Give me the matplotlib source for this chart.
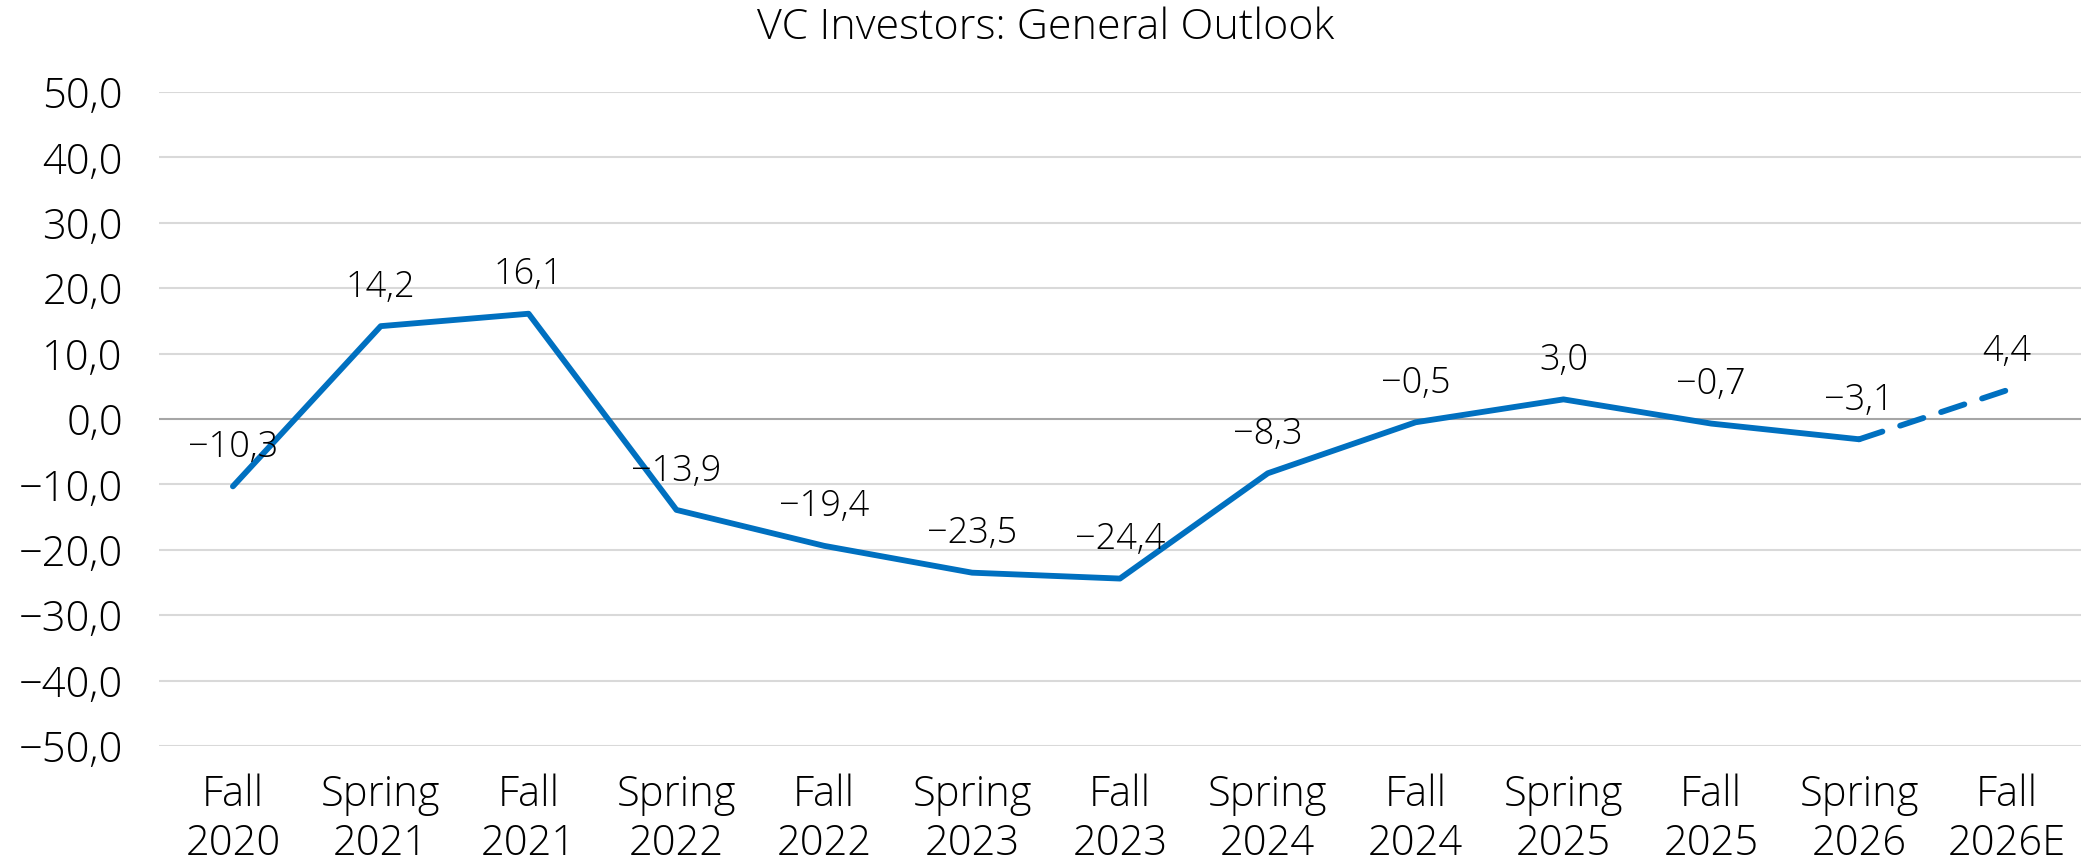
import matplotlib
matplotlib.use("Agg")
import matplotlib.pyplot as plt

# data
periods = ["Fall\n2020", "Spring\n2021", "Fall\n2021", "Spring\n2022", "Fall\n2022",
           "Spring\n2023", "Fall\n2023", "Spring\n2024", "Fall\n2024", "Spring\n2025",
           "Fall\n2025", "Spring\n2026", "Fall\n2026E"]
outlook = [-10.3, 14.2, 16.1, -13.9, -19.4, -23.5, -24.4, -8.3, -0.5, 3.0, -0.7, -3.1, 4.4]
n_actual = 12  # last point is the estimate
y_ticks = [-50, -40, -30, -20, -10, 0, 10, 20, 30, 40, 50]

BLUE = "#0070C0"

plt.rcParams['font.family'] = ['Open Sans', 'DejaVu Sans']
plt.rcParams['font.weight'] = 300

def fmt(v):
    return f"{v:.1f}".replace(".", ",").replace("-", "\u2212")

fig = plt.figure(figsize=(20.92, 8.65), dpi=100)
ax = fig.add_axes([0.076, 0.1376, 0.9187, 0.756])

x = list(range(len(outlook)))
ax.plot(x[:n_actual], outlook[:n_actual], color=BLUE, lw=4.2, solid_capstyle='round', zorder=3)
ax.plot(x[n_actual - 1:], outlook[n_actual - 1:], color=BLUE, lw=4.2,
        linestyle=(0, (4.2, 3.2)), dash_capstyle='round', zorder=3)

for xi, v in zip(x, outlook):
    ax.annotate(fmt(v), (xi, v), xytext=(0, 28), textcoords='offset points',
                ha='center', va='center', fontsize=26, color='black')

ax.set_xlim(-0.5, len(outlook) - 0.5)
ax.set_ylim(-50, 50)
ax.set_yticks(y_ticks)
ax.set_yticklabels([fmt(t) for t in y_ticks], fontsize=30)
ax.set_xticks(x)
ax.set_xticklabels(periods, fontsize=30, linespacing=1.2)
ax.tick_params(axis='both', length=0, colors='black')
ax.tick_params(axis='x', pad=20)
ax.tick_params(axis='y', pad=26)

for t in y_ticks:
    ax.axhline(t, color='#A6A6A6' if t == 0 else '#D9D9D9', lw=1.5, zorder=1)
for s in ax.spines.values():
    s.set_visible(False)

fig.text(0.5, 0.968, "VC Investors: General Outlook", ha='center', va='center',
         fontsize=31, color='black')

fig.savefig("out.png", dpi=100)
